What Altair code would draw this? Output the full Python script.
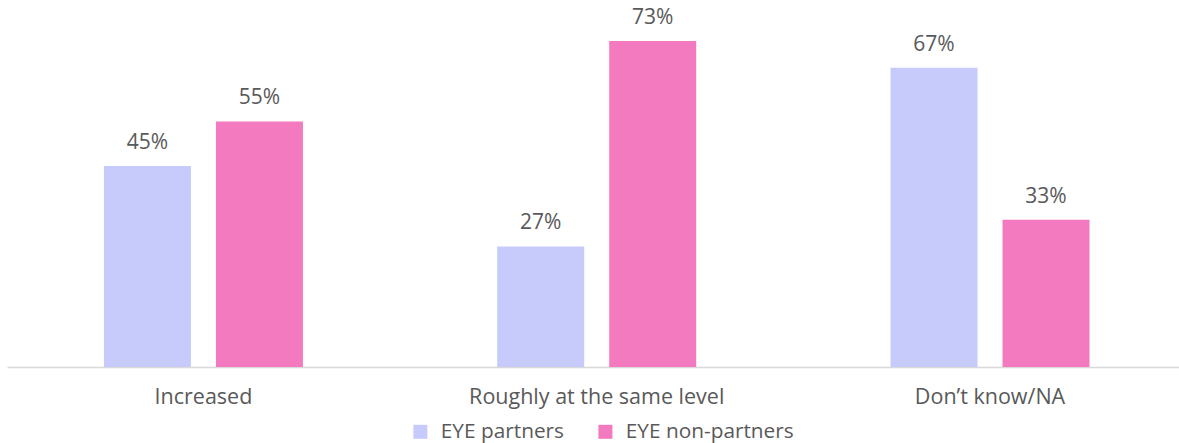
import altair as alt
import pandas as pd

categories = ["Increased", "Roughly at the same level", "Don\u2019t know/NA"]
series = ["EYE partners", "EYE non-partners"]
partners = [45, 27, 67]
non_partners = [55, 73, 33]
colors = ["#C6CBFB", "#F47AC0"]

rows = []
for i, c in enumerate(categories):
    rows.append({"cat": c, "series": series[0], "value": partners[i], "label": f"{partners[i]}%"})
    rows.append({"cat": c, "series": series[1], "value": non_partners[i], "label": f"{non_partners[i]}%"})
df = pd.DataFrame(rows)

FONT = "Open Sans"
TXT = "#595959"

x = alt.X("cat:N", sort=categories, title=None,
          scale=alt.Scale(paddingInner=0.494, paddingOuter=0.237, align=0.52),
          axis=alt.Axis(labelAngle=0, ticks=False, labelFontSize=21.5, labelColor=TXT,
                        labelFont=FONT, labelPadding=19, labelLimit=0, domainColor="#D9D9D9",
                        domainWidth=1.5, grid=False))
xo = alt.XOffset("series:N", sort=series, scale=alt.Scale(paddingInner=0.223, paddingOuter=0))
y = alt.Y("value:Q", scale=alt.Scale(domain=[0, 82.2], nice=False), axis=None)

bars = alt.Chart(df).mark_bar().encode(
    x=x, xOffset=xo, y=y,
    color=alt.Color("series:N", sort=series,
                    scale=alt.Scale(domain=series, range=colors),
                    legend=alt.Legend(title=None, orient="none", direction="horizontal",
                                      legendX=403, legendY=421, symbolType="square",
                                      symbolSize=196, symbolStrokeWidth=0,
                                      labelFontSize=20.8, labelColor=TXT, labelFont=FONT,
                                      labelLimit=0, labelOffset=10, columnPadding=31)),
)

text = alt.Chart(df).mark_text(baseline="bottom", dy=-13, fontSize=21, color=TXT, font=FONT).encode(
    x=alt.X("cat:N", sort=categories), xOffset=xo, y=y, text="label:N"
)

chart = (bars + text).properties(
    width=1172, height=367,
    background="white",
    autosize=alt.AutoSizeParams(type="none"),
    padding={"left": 7, "top": 0, "right": 0, "bottom": 76},
).configure_view(stroke=None)

chart.save("out.html", embed_options={"renderer": "svg", "actions": False})
